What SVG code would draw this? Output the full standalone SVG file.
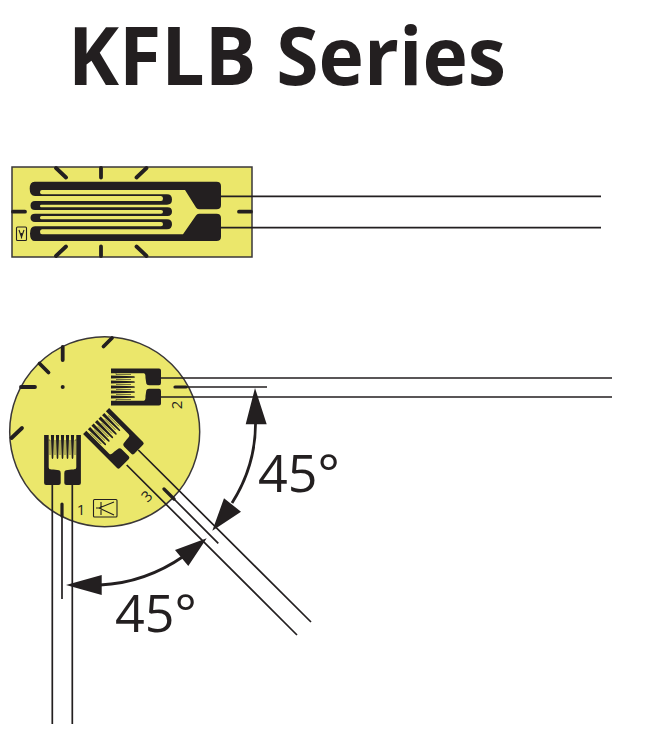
<svg xmlns="http://www.w3.org/2000/svg" width="645" height="755" viewBox="0 0 645 755">
<style>
.y{fill:#ebe76b;stroke:#3a3738;stroke-width:1.5}
.d{fill:#231f20}
.t{stroke:#231f20;stroke-width:3.8;fill:none;stroke-linecap:round}
.l{stroke:#231f20;stroke-width:1.7;fill:none}
.m{stroke:#231f20;stroke-width:3.2;fill:none;stroke-linecap:round}
.a{stroke:#231f20;stroke-width:2.8;fill:none}
.i{stroke:#231f20;stroke-width:1.1;fill:none}
text{fill:#231f20;font-family:"Open Sans","Noto Sans",sans-serif}
.n{font-size:15px}
.deg{font-size:52px}
</style>
<defs>
<g id="gauge">
<path class="d" d="M-18.4,0H-13.8V32C-13.8,34.5 -12,34.5 -9,34.5L-3.5,35.3Q-1.8,35.6 -1.8,38V48Q-1.8,50 -4,50H-16.4Q-18.4,50 -18.4,48ZM18.4,0H13.8V32C13.8,34.5 12,34.5 9,34.5L3.5,35.3Q1.8,35.6 1.8,38V48Q1.8,50 4,50H16.4Q18.4,50 18.4,48Z"/>
<path class="d" d="M-11.6,0H-8.4L-9.2,23Q-10,25 -10.8,23ZM-6.6,0H-3.4L-4.2,23Q-5,25 -5.8,23ZM-1.6,0H1.6L.8,23Q0,25 -.8,23ZM3.4,0H6.6L5.8,23Q5,25 4.2,23ZM8.4,0H11.6L10.8,23Q10,25 9.2,23Z"/>
<path d="M-13.8,5L-12.5,5V20M-7.5,5V20M-2.5,5V20M2.5,5V20M7.5,5V20M12.5,20V5H13.8" fill="none" stroke="#231f20" stroke-width=".6"/>
</g>
</defs>
<g id="title"><text x="68" y="85" font-size="80" font-weight="700" textLength="438" lengthAdjust="spacingAndGlyphs">KFLB Series</text></g>
<g id="gauge-linear">
<rect class="y" x="12" y="167" width="240" height="90"/>
<path class="t" d="M56,168L66,177.5M101,168V177.5M146.5,168L136.5,177.5M56,256L66,246.5M101,256V246.5M146.5,256L136.5,246.5M13,211.7H25M239,211.7H251"/>
<path class="d" d="M34.5,181.7H216.5Q221,181.7 221,186V205Q221,209.3 216.5,209.3H199Q197,209.3 196,207.5L185,190H42Q40,190 40,192.15Q40,194.3 42,194.3H167Q172,194.3 172,199.5Q172,204.7 167,204.7H41.3Q40,204.7 40,206Q40,207.3 41.3,207.3H167.5Q172,207.3 172,211.6Q172,216 167.5,216H41.5Q40,216 40,217.65Q40,219.3 41.5,219.3H167Q172,219.3 172,224.3Q172,229.3 167,229.3H42Q40,229.3 40,231.8Q40,234.3 42,234.3H183L196,215.5Q197,213.7 199,213.7H216.5Q221,213.7 221,218V236.7Q221,241 216.5,241H35Q30,241 30,233.65Q30,226.3 35,226.3H161Q163,226.3 163,224.15Q163,222 161,222H35Q30.5,222 30.5,217.85Q30.5,213.7 35,213.7H161Q163,213.7 163,211.85Q163,210 161,210H35Q30.5,210 30.5,205.5Q30.5,201 35,201H161Q163,201 163,198.5Q163,196 161,196H35Q29.7,196 29.7,188.85Q29.7,181.7 34.5,181.7Z"/>
<rect class="i" x="16.5" y="227" width="10" height="13.5" rx="1"/>
<path class="i" d="M19,230L21.5,237L24,230M21.5,233V238.5"/>
</g>
<g id="gauge-rosette">
<circle class="y" cx="104.7" cy="431.7" r="95"/>
<path class="t" d="M103.5,346.5L112,338M62.7,347V360M39.5,363.5L48.5,372.5M21,387H35M11.5,438L22,428"/>
<circle class="d" cx="62.7" cy="387" r="2"/>
<use href="#gauge" transform="translate(62.5,435)"/>
<use href="#gauge" transform="translate(111,387) rotate(-90)"/>
<use href="#gauge" transform="translate(96.1,421.1) rotate(-45)"/>
<text class="n" x="81" y="515" text-anchor="middle">1</text>
<text class="n" text-anchor="middle" transform="translate(182,405) rotate(-90)">2</text>
<text class="n" text-anchor="middle" transform="translate(150.5,500) rotate(-45)">3</text>
<rect class="i" x="93.5" y="499.5" width="23.5" height="17.5" rx="1"/>
<path class="i" d="M99,508L114,502M99,508L114,515M101,502V515M96,508H101"/>
</g>
<g id="connectors">
<path class="l" d="M221,196.3H601M221,227.7H601"/>
<path class="l" d="M161,378H612M161,397H612M52.3,485V724M72.3,485V724M138.3,450L311,622M126.7,465L297,635"/>
<path class="l" d="M186,387H267M62,516V599M174,499L218.3,543.3"/>
<path class="m" d="M175,387H186M62,504V516M164,489L174,499"/>
<path class="a" d="M255.5,422Q256,465 232,503M184,556Q145,583 100,585"/>
<path class="d" d="M255,388L245.7,424.3H266.7ZM212.3,530.7L224,498.3L241,511.7ZM206.7,538.3L175,550L188.3,566ZM66,585L101.7,575V595Z"/>
</g>
<g id="labels">
<text class="deg" x="258" y="491.5">45°</text>
<text class="deg" x="115" y="632">45°</text>
</g>
</svg>
